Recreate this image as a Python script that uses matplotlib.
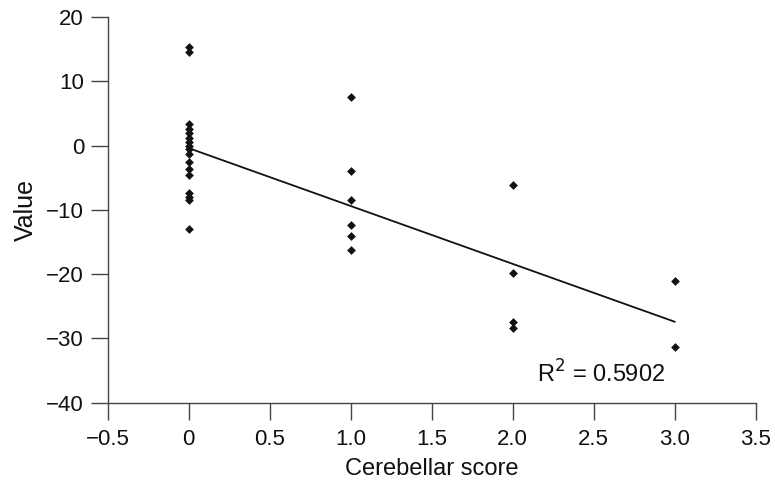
import matplotlib
matplotlib.use("Agg")
import matplotlib.pyplot as plt
import numpy as np

plt.rcParams['font.family'] = ['Liberation Sans', 'DejaVu Sans']

# Values, grouped by cerebellar score
score0 = [15.4, 14.6, 3.3, 2.6, 1.9, 1.2, 0.5, -0.1, -0.6, -1.3,
          -2.5, -3.6, -4.6, -7.3, -8.0, -8.5, -12.9]
score1 = [7.6, -4.0, -8.4, -12.4, -14.1, -16.2]
score2 = [-6.1, -19.8, -27.4, -28.3]
score3 = [-21.1, -31.3]
r2_label = "R$^2$ = 0.5902"

x = np.concatenate([np.full(len(score0), 0.0), np.full(len(score1), 1.0),
                    np.full(len(score2), 2.0), np.full(len(score3), 3.0)])
y = np.concatenate([score0, score1, score2, score3])

# Least squares line over the data
slope, intercept = np.polyfit(x, y, 1)
xl = np.array([0.0, 3.0])

fig = plt.figure(figsize=(7.75, 4.87), dpi=100)
ax = fig.add_axes([0.139, 0.173, 0.836, 0.792])

ax.plot(xl, slope * xl + intercept, color='#111111', lw=1.3, zorder=2)
ax.scatter(x, y, marker='D', s=20, color='#111111', zorder=3, linewidths=0)

ax.set_xlim(-0.5, 3.5)
ax.set_ylim(-40, 20)
ax.set_xticks(np.arange(-0.5, 3.51, 0.5))
ax.set_xticklabels(['\u22120.5', '0', '0.5', '1.0', '1.5', '2.0', '2.5', '3.0', '3.5'])
ax.set_yticks(np.arange(-40, 21, 10))
ax.set_yticklabels(['\u221240', '\u221230', '\u221220', '\u221210', '0', '10', '20'])

for s in ['top', 'right']:
    ax.spines[s].set_visible(False)
for s in ['left', 'bottom']:
    ax.spines[s].set_color('#444444')
    ax.spines[s].set_linewidth(1.0)
ax.tick_params(direction='out', length=12, width=1.0, color='#444444',
               labelsize=16, labelcolor='#111111')
ax.tick_params(axis='x', pad=7)
ax.tick_params(axis='y', pad=5)

ax.set_xlabel('Cerebellar score', fontsize=17, color='#111111', labelpad=6)
ax.set_ylabel('Value', fontsize=18, color='#111111', labelpad=6)

ax.text(2.15, -35.5, r2_label, fontsize=17, color='#111111', va='center')

fig.savefig('out.png', dpi=100)
